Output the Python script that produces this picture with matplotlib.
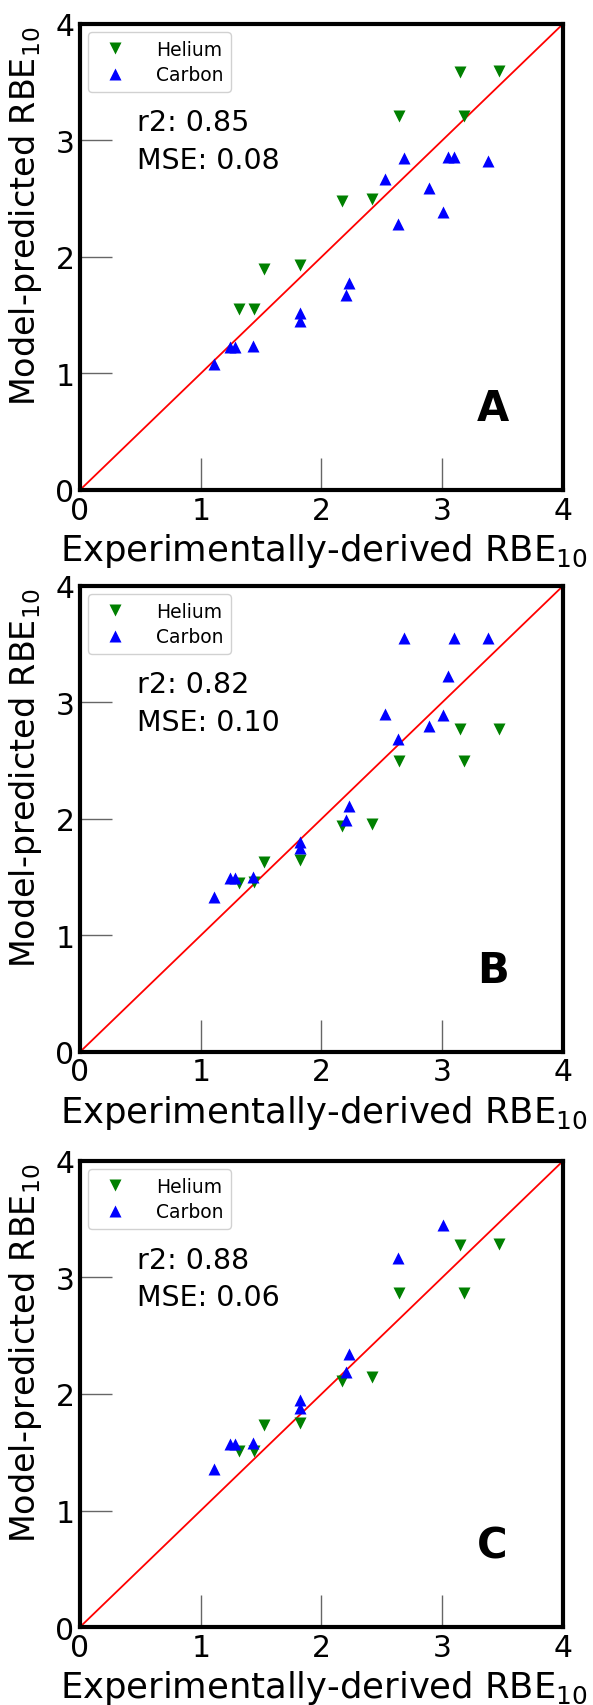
import matplotlib
matplotlib.use("Agg")
import matplotlib.pyplot as plt

plt.rcParams['font.family'] = ['DejaVu Sans']

he_x = [1.32, 1.44, 1.52, 1.82, 2.17, 2.42, 2.64, 3.15, 3.18, 3.47]
c_x = [1.11, 1.24, 1.28, 1.43, 1.82, 1.82, 2.20, 2.23, 2.53, 2.63, 2.68, 2.89, 3.01, 3.05, 3.10, 3.38]

he_A = [1.55, 1.55, 1.90, 1.93, 2.48, 2.50, 3.21, 3.59, 3.21, 3.60]
c_A = [1.08, 1.23, 1.23, 1.24, 1.52, 1.45, 1.67, 1.78, 2.67, 2.28, 2.85, 2.59, 2.39, 2.86, 2.86, 2.82]

he_B = [1.45, 1.46, 1.63, 1.65, 1.94, 1.96, 2.50, 2.77, 2.50, 2.77]
c_B = [1.33, 1.49, 1.49, 1.50, 1.80, 1.75, 1.99, 2.11, 2.90, 2.69, 3.55, 2.80, 2.89, 3.23, 3.55, 3.55]

he_C = [1.51, 1.51, 1.73, 1.75, 2.11, 2.15, 2.87, 3.28, 2.87, 3.29]
c_C_x = [1.11, 1.24, 1.28, 1.43, 1.82, 1.82, 2.20, 2.23, 2.63, 3.01]
c_C = [1.36, 1.57, 1.57, 1.58, 1.95, 1.88, 2.19, 2.34, 3.17, 3.45]

panels = [
    ("A", he_A, c_x, c_A, "r2: 0.85\nMSE: 0.08"),
    ("B", he_B, c_x, c_B, "r2: 0.82\nMSE: 0.10"),
    ("C", he_C, c_C_x, c_C, "r2: 0.88\nMSE: 0.06"),
]
bottoms = [0.7122, 0.3828, 0.0457]

fig = plt.figure(figsize=(5.93, 17.06), dpi=100)

for (tag, he_y, cx, cy, stats), b in zip(panels, bottoms):
    ax = fig.add_axes([0.1349, b, 0.8145, 0.2732])
    ax.plot([0, 4], [0, 4], color='red', lw=1.3, zorder=1)
    ax.plot(he_x, he_y, 'v', color='green', ms=9, mec='none', label='Helium', zorder=3)
    ax.plot(cx, cy, '^', color='blue', ms=9, mec='none', label='Carbon', zorder=3)
    ax.set_xlim(0, 4)
    ax.set_ylim(0, 4)
    ax.set_xticks([0, 1, 2, 3, 4])
    ax.set_yticks([0, 1, 2, 3, 4])
    ax.tick_params(direction='in', length=23, width=1, color='#666666', pad=4,
                   labelsize=21.5, top=False, right=False)
    for s in ax.spines.values():
        s.set_linewidth(3)
        s.set_color('black')
    ax.set_xlabel(r'Experimentally-derived RBE$_{10}$', fontsize=25.5)
    ax.set_ylabel(r'Model-predicted RBE$_{10}$', fontsize=24)
    ax.xaxis.set_label_coords(0.505, -0.088)
    ax.yaxis.set_label_coords(-0.075, 0.59)
    ax.text(0.47, 2.76, stats, fontsize=20.5, linespacing=1.45, va='baseline')
    ax.text(3.29, 0.6, tag, fontsize=30, fontweight='bold', va='baseline')
    ax.legend(loc='upper left', fontsize=13.5, handletextpad=1.2, borderaxespad=0.45,
              labelspacing=0.35, framealpha=0.9)

fig.savefig('out.png', dpi=100)
